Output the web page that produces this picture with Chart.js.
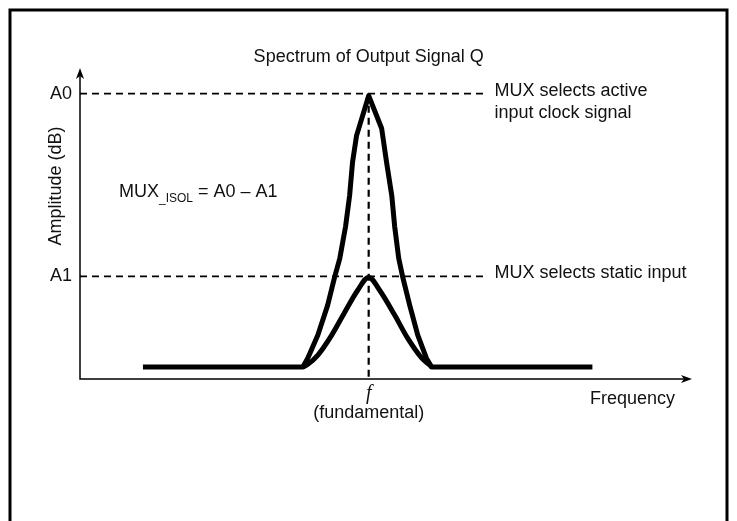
<!DOCTYPE html>
<html>
<head>
<meta charset="utf-8">
<script src="https://cdn.jsdelivr.net/npm/chart.js@4.4.1/dist/chart.umd.min.js"></script>
<style>
  html, body { margin: 0; padding: 0; background: #fff; }
  #chart { display: block; }
</style>
</head>
<body>
<canvas id="chart" width="737" height="521"></canvas>
<script>
// spectrum when the MUX selects the active clock (tall peak)
const outerFreq = [10.9, 38.6, 39.45, 41.2, 42.9, 44.1, 45.0, 46.0, 46.7, 47.2, 47.9, 50.0,
  52.25, 53.1, 54.0, 54.5, 55.2, 55.9, 57.1, 58.5, 60.0, 60.9, 88.75];
const outerAmp = [4.2, 4.2, 7.3, 15.4, 25.9, 35.7, 42.3, 53.5, 64.3, 75.9, 85.3, 99.3,
  87.8, 75.9, 64.3, 53.5, 42.3, 35.7, 25.9, 15.4, 7.3, 4.2, 4.2];

// spectrum when the MUX selects the static input (small bump)
const innerFreq = [38.6, 39.3, 41.2, 43.6, 45.85, 48.1, 50.0, 51.9, 54.5, 56.75, 59.2, 60.55, 60.9];
const innerAmp = [4.2, 4.9, 8.4, 15.4, 23.4, 31.1, 35.7, 31.1, 22.4, 14.3, 7.3, 4.9, 4.2];

const fundamental = 50;
const levelNames = ["A0", "A1"];
const levelAmps = [100, 36];
const levelNotes = [["MUX selects active", "input clock signal"], ["MUX selects static input"]];
const refLineEnd = 70.4;
const freqMax = 106;
const ampMax = 109;

const FONT = "'Liberation Sans', Arial, Helvetica, sans-serif";

function toPoints(xs, ys) {
  return xs.map((x, i) => ({ x: x, y: ys[i] }));
}

const datasets = [
  {
    data: toPoints(outerFreq, outerAmp),
    borderColor: "#000",
    borderWidth: 5,
    tension: 0,
    borderJoinStyle: "round",
    borderCapStyle: "butt",
  },
  {
    data: toPoints(innerFreq, innerAmp),
    borderColor: "#000",
    borderWidth: 5,
    cubicInterpolationMode: "monotone",
    borderCapStyle: "butt",
  },
];

levelAmps.forEach((a) => {
  datasets.push({
    data: [{ x: 0, y: a }, { x: refLineEnd, y: a }],
    borderColor: "#000",
    borderWidth: 1.8,
    borderDash: [7, 5],
    tension: 0,
  });
});

datasets.push({
  data: [{ x: fundamental, y: levelAmps[0] }, { x: fundamental, y: 0 }],
  borderColor: "#000",
  borderWidth: 2.2,
  borderDash: [7, 5],
  tension: 0,
});

const decorations = {
  id: "decorations",
  beforeDraw(chart) {
    const ctx = chart.ctx;
    ctx.save();
    ctx.fillStyle = "#fff";
    ctx.fillRect(0, 0, chart.width, chart.height);
    ctx.restore();
  },
  afterDraw(chart) {
    const ctx = chart.ctx;
    const area = chart.chartArea;
    const xs = chart.scales.x;
    const ys = chart.scales.y;
    ctx.save();

    // outer frame
    ctx.strokeStyle = "#000";
    ctx.lineWidth = 3;
    ctx.strokeRect(10, 10, 717, 540);

    // axes
    ctx.lineWidth = 1.5;
    ctx.beginPath();
    ctx.moveTo(area.left, area.top + 6);
    ctx.lineTo(area.left, area.bottom);
    ctx.lineTo(area.right - 6, area.bottom);
    ctx.stroke();

    // arrow heads
    ctx.fillStyle = "#000";
    ctx.beginPath();
    ctx.moveTo(area.left, area.top);
    ctx.lineTo(area.left - 4, area.top + 11);
    ctx.lineTo(area.left, area.top + 8);
    ctx.lineTo(area.left + 4, area.top + 11);
    ctx.closePath();
    ctx.fill();
    ctx.beginPath();
    ctx.moveTo(area.right, area.bottom);
    ctx.lineTo(area.right - 11, area.bottom - 4);
    ctx.lineTo(area.right - 8, area.bottom);
    ctx.lineTo(area.right - 11, area.bottom + 4);
    ctx.closePath();
    ctx.fill();

    ctx.fillStyle = "#111";
    ctx.font = "18px " + FONT;

    // title
    ctx.textAlign = "center";
    ctx.textBaseline = "alphabetic";
    ctx.fillText("Spectrum of Output Signal Q", xs.getPixelForValue(fundamental), 62);

    // level labels and notes
    levelNames.forEach((name, i) => {
      const py = ys.getPixelForValue(levelAmps[i]);
      ctx.textAlign = "right";
      ctx.textBaseline = "middle";
      ctx.fillText(name, area.left - 8, py);
      ctx.textAlign = "left";
      ctx.textBaseline = "alphabetic";
      levelNotes[i].forEach((line, j) => {
        ctx.fillText(line, xs.getPixelForValue(refLineEnd) + 8, py + 2 + j * 22);
      });
    });

    // axis titles
    ctx.save();
    ctx.translate(61, 186);
    ctx.rotate(-Math.PI / 2);
    ctx.textAlign = "center";
    ctx.textBaseline = "alphabetic";
    ctx.fillText("Amplitude (dB)", 0, 0);
    ctx.restore();

    ctx.textAlign = "right";
    ctx.fillText("Frequency", 675, 404);

    const fx = xs.getPixelForValue(fundamental);
    ctx.textAlign = "center";
    ctx.fillText("(fundamental)", fx, 418);
    ctx.font = "italic 20px 'Liberation Serif', 'Times New Roman', serif";
    ctx.fillText("f", fx, 399);

    // isolation formula
    ctx.textAlign = "left";
    let x = 119;
    ctx.font = "18px " + FONT;
    ctx.fillText("MUX", x, 197);
    x += ctx.measureText("MUX").width;
    ctx.font = "12px " + FONT;
    ctx.fillText("_ISOL", x, 202);
    x += ctx.measureText("_ISOL").width;
    ctx.font = "18px " + FONT;
    ctx.fillText(" = A0 \u2013 A1", x, 197);

    ctx.restore();
  },
};

new Chart(document.getElementById("chart"), {
  type: "scatter",
  data: { datasets: datasets },
  options: {
    responsive: false,
    animation: false,
    showLine: true,
    layout: { padding: { left: 80, right: 45, top: 68, bottom: 142 } },
    elements: { point: { radius: 0, hoverRadius: 0 } },
    plugins: { legend: { display: false }, tooltip: { enabled: false } },
    scales: {
      x: { type: "linear", min: 0, max: freqMax, display: false },
      y: { type: "linear", min: 0, max: ampMax, display: false },
    },
  },
  plugins: [decorations],
});
</script>
</body>
</html>
